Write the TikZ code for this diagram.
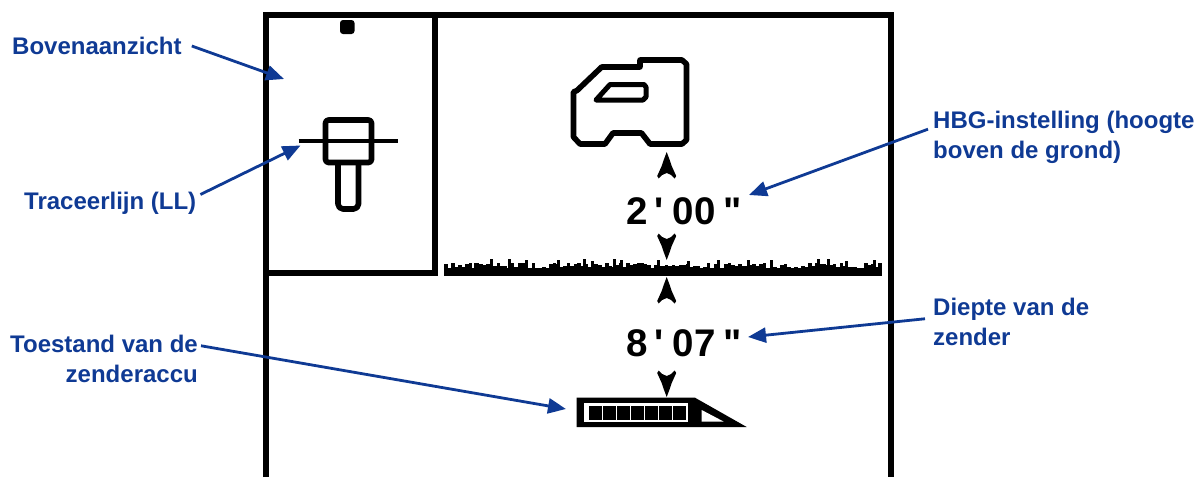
\documentclass[tikz,border=0pt]{standalone}
\usepackage{fontspec}
\setmainfont{Liberation Sans}
\newfontfamily\lcdfont{Liberation Sans}
\usetikzlibrary{arrows.meta}
\definecolor{callout}{HTML}{0F3A94}
\tikzset{
  lcd/.style={line width=#1,draw=black,line join=round},
  label/.style={font=\bfseries\fontsize{24}{29.5}\selectfont,text=callout,inner sep=0pt,align=left},
  lead/.style={draw=callout,line width=2.8pt,-{Triangle[length=18pt,width=15pt]},shorten >=0pt},
  readout/.style={font=\lcdfont\bfseries\fontsize{38.5}{38.5}\selectfont,inner sep=0pt,anchor=base west},
}
\begin{document}
\begin{tikzpicture}[x=1pt,y=-1pt]
\useasboundingbox (0,0) rectangle (1195,477);
% frame
\draw[lcd=6pt,line cap=butt,line join=miter] (266,477) -- (266,15) -- (891,15) -- (891,477);
\draw[lcd=6pt,line join=miter] (434.5,15) -- (434.5,272.5) -- (266,272.5);
\fill[rounded corners=3pt] (340,20) rectangle (354.5,34);
% top view
\draw[lcd=5.6pt,rounded corners=3pt] (325.5,120) rectangle (371.5,162.5);
\draw[lcd=5.6pt,rounded corners=5pt] (338,162.5) -- (338,209) -- (358.5,209) -- (358.5,162.5);
\draw[lcd=3.5pt] (298.5,141) -- (398,141);
% receiver
\draw[lcd=5.6pt] (573.5,92) -- (577,90.5) -- (601.7,67) -- (640,67) -- (640,60) -- (682,60) -- (686.5,64)
  -- (686.5,140) -- (682,144) -- (650,144) -- (641.5,133) -- (613,133) -- (605,144) -- (580,144)
  -- (573.5,137) -- cycle;
\draw[lcd=5pt] (596,100) -- (610,84.5) -- (644,84.5) -- (646,87) -- (646,97) -- (643,100) -- cycle;
% small heads
\foreach \ty/\d in {152/1,260/-1,277/1,397/-1}{
  \fill[shift={(666.7,\ty)},yscale=\d] (0,0) -- (3,8) -- (5,14) -- (9.5,24) -- (8,26.5) -- (4.5,23) -- (0,21)
    -- (-4.5,23) -- (-8,26.5) -- (-9.5,24) -- (-5,14) -- (-3,8) -- cycle;
}
% grass
\pgfmathsetseed{4711}
\fill (444,267.5) rectangle (882,276);
\foreach \gx in {444,447.5,...,878}{
  \pgfmathsetmacro{\gt}{268.5-6*rnd}
  \fill (\gx,\gt) rectangle (\gx+3.6,270);
}
\foreach \gx/\gt in {490/259,508/259,525/260,557/260,583/259,591/261,613/259,620/260,657/260,687/261,717/260,747/260,770/260,817/259,827/259,845/261,873/260,474/263}{
  \fill (\gx,\gt) rectangle (\gx+3,270);
}
% readouts
\node[readout] (depthA) at (626,224) {2\hspace{7pt}'\hspace{9pt}00\hspace{8pt}"};
\node[readout] (depthB) at (626,356) {8\hspace{7pt}'\hspace{9pt}07\hspace{8pt}"};
% battery
\fill (576.7,397.7) -- (695,397.7) -- (746.7,427) -- (576.7,427) -- cycle;
\fill[white] (584,403) rectangle (688,422);
\foreach \bx in {0,...,6}{
  \fill ({589+\bx*14},405.7) rectangle ({589+\bx*14+12.6},419.5);
}
\fill[white] (701.7,410) -- (723.5,421.5) -- (701.7,421.5) -- cycle;
% labels
\node[label,anchor=west] (lbA) at (12,46) {Bovenaanzicht};
\node[label,anchor=west] (lbB) at (24,203.5) {Traceerlijn (LL)};
\node[label,anchor=north west] (lbC) at (933,111) {HBG-instelling (hoogte\\boven de grond)};
\node[label,anchor=north west] (lbD) at (933,298) {Diepte van de\\zender};
\node[label,anchor=north east,align=right] (lbE) at (198,335) {Toestand van de\\zenderaccu};
\coordinate (tipA) at (284,79);
\coordinate (tipB) at (300.5,145.5);
\coordinate (tipC) at (749,195);
\coordinate (tipD) at (748,337);
\coordinate (tipE) at (566,409);
\draw[lead] ([xshift=10pt]lbA.east) -- (tipA);
\draw[lead] ([xshift=4pt,yshift=9pt]lbB.east) -- (tipB);
\draw[lead] ([xshift=-5pt,yshift=8pt]lbC.west) -- (tipC);
\draw[lead] ([xshift=-8pt,yshift=3pt]lbD.west) -- (tipD);
\draw[lead] ([xshift=3pt,yshift=13pt]lbE.east) -- (tipE);
\end{tikzpicture}
\end{document}
